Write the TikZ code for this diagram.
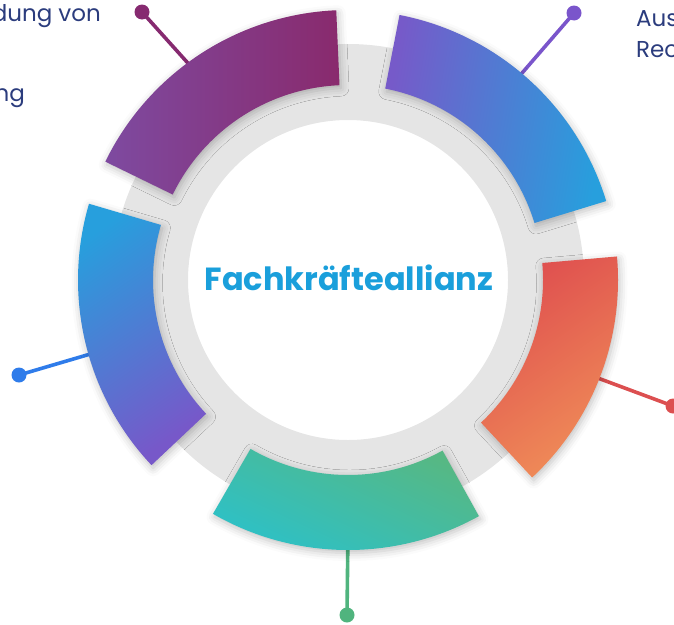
\documentclass[tikz,border=0pt]{standalone}
\usepackage{fontspec}
\setmainfont{Poppins}
\usetikzlibrary{calc,shadows.blur}
\definecolor{ringgray}{HTML}{E5E5E5}
\definecolor{titleblue}{HTML}{1A9FDB}
\definecolor{labelblue}{HTML}{2B3C7D}
\definecolor{pA}{HTML}{7E4AA0}
\definecolor{pB}{HTML}{892A6D}
\definecolor{tA}{HTML}{765AC9}
\definecolor{tB}{HTML}{279FDD}
\definecolor{rA}{HTML}{DF4F4F}
\definecolor{rB}{HTML}{F08E58}
\definecolor{gA}{HTML}{56B884}
\definecolor{gB}{HTML}{2BC1CA}
\definecolor{bA}{HTML}{279FDD}
\definecolor{bB}{HTML}{7758C9}
\definecolor{lnP}{HTML}{862A70}
\definecolor{lnT}{HTML}{7A55CB}
\definecolor{lnL}{HTML}{2F7CEA}
\definecolor{lnR}{HTML}{DC4F50}
\definecolor{lnG}{HTML}{50B47E}
\tikzset{
  segshadow/.style={blur shadow={shadow xshift=1.5pt,shadow yshift=-3pt,shadow blur radius=8pt,shadow opacity=25}},
  dotnode/.style={circle,inner sep=0pt,minimum size=15pt},
  stem/.style={line width=3.6pt},
  labeltext/.style={text=labelblue,font=\fontsize{23}{27}\selectfont,inner sep=0pt},
  titletext/.style={text=titleblue,font=\bfseries\fontsize{32}{36}\selectfont,inner sep=0pt}
}
\newcommand\ringseg[3]{%
  \shade[#3,segshadow] ($(C)+(#1:270)$) arc[start angle=#1,end angle=#2,radius=270]
    -- ($(C)+(#2:195)$) arc[start angle=#2,end angle=#1,radius=195] -- cycle;}
\begin{document}
\begin{tikzpicture}[x=1pt,y=1pt]
\useasboundingbox (0,-624) rectangle (674,0);
\clip (0,-624) rectangle (674,0);
\coordinate (C) at (348,-280);
% grey ring
\fill[ringgray,even odd rule] (C) circle[radius=236] (C) circle[radius=160];
% stems
\coordinate (sP) at ($(C)+(126:250)$);
\coordinate (sT) at ($(C)+(50:250)$);
\coordinate (sR) at ($(C)+(-21.5:250)$);
\coordinate (sG) at ($(C)+(-90:250)$);
\coordinate (sL) at ($(C)+(196:250)$);
\node[dotnode,fill=lnP] (dP) at (142,-12) {};
\node[dotnode,fill=lnT] (dT) at (574,-13) {};
\node[dotnode,fill=lnR] (dR) at (673,-406) {};
\node[dotnode,fill=lnG] (dG) at (347,-615) {};
\node[dotnode,fill=lnL] (dL) at (19,-375) {};
\draw[stem,lnP] (dP.center) -- (sP);
\draw[stem,lnT] (dT.center) -- (sT);
\draw[stem,lnR] (dR.center) -- (sR);
\draw[stem,lnG] (dG.center) -- (sG);
\draw[stem,lnL] (dL.center) -- (sL);
% segments
\ringseg{92.5}{154}{top color=pA,bottom color=pB,shading angle=90}
\ringseg{17}{79}{top color=tA,bottom color=tB,shading angle=80}
\ringseg{-47}{5}{top color=rA,bottom color=rB,shading angle=35}
\ringseg{-120}{-61}{top color=gA,bottom color=gB,shading angle=-25}
\ringseg{163.6}{223.3}{top color=bA,bottom color=bB,shading angle=35}
% title
\node[titletext] (title) at (349,-278) {Fachkräfteallianz};
% labels
\node[labeltext,anchor=base east] (lA) at (101,-21) {dung von};
\node[labeltext,anchor=base east] (lB) at (25,-101) {ng};
\node[labeltext,anchor=base west] (rA) at (636,-26) {Aus};
\node[labeltext,anchor=base west] (rB) at (636,-57) {Rec};
\end{tikzpicture}
\end{document}
